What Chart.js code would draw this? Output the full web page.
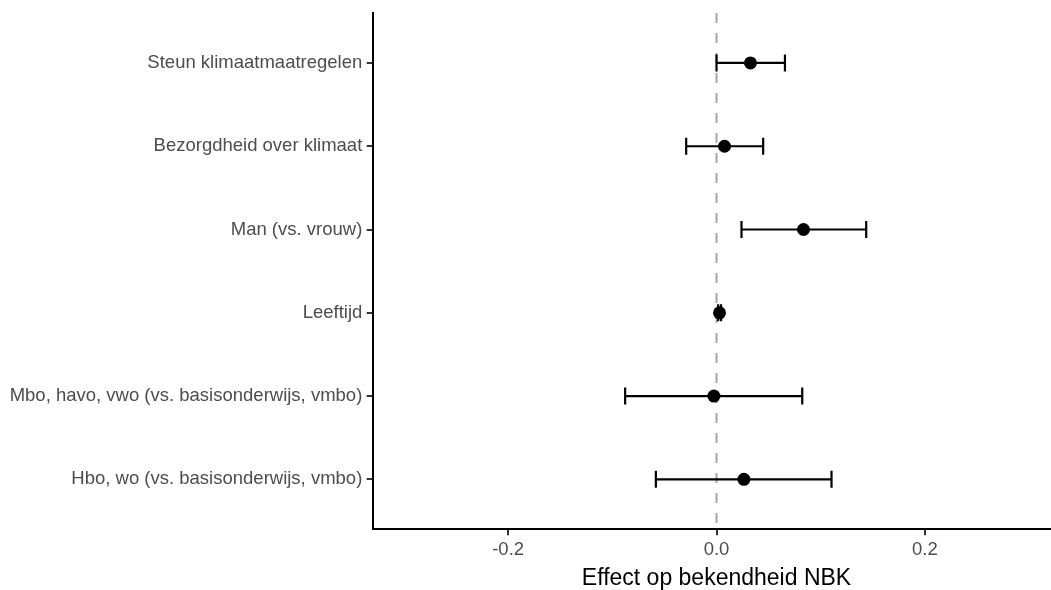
<!DOCTYPE html>
<html lang="nl">
<head>
<meta charset="utf-8">
<title>Effect op bekendheid NBK</title>
<script src="https://cdn.jsdelivr.net/npm/chart.js@4/dist/chart.umd.min.js"></script>
<style>
  html, body { margin: 0; padding: 0; background: #ffffff; overflow: hidden; }
  #wrap { position: absolute; left: 0; top: 0; width: 1071px; height: 590px; }
  #chart { display: block; width: 1071px; height: 590px; max-width: none; }
</style>
</head>
<body>
<div id="wrap"><canvas id="chart" width="1071" height="590"></canvas></div>
<script>
// Predictors, top to bottom
const predictors = [
  "Steun klimaatmaatregelen",
  "Bezorgdheid over klimaat",
  "Man (vs. vrouw)",
  "Leeftijd",
  "Mbo, havo, vwo (vs. basisonderwijs, vmbo)",
  "Hbo, wo (vs. basisonderwijs, vmbo)"
];
// Point estimates and confidence bounds
const estimate = [0.0326, 0.0077, 0.0835, 0.0029, -0.0025, 0.0263];
const lower    = [0.0000, -0.0291, 0.0240, 0.0016, -0.0877, -0.0582];
const upper    = [0.0657, 0.0448, 0.1437, 0.0044, 0.0823, 0.1104];
// Axis ticks
const xTicks = [-0.2, 0.0, 0.2];
const xMin = -0.33, xMax = 0.33;
const referenceValue = 0;

const rowPos = predictors.map((_, i) => i + 1);
const yMin = 0.4, yMax = predictors.length + 0.6;

const FONT = "'Liberation Sans', Arial, Helvetica, sans-serif";
const TICK_COLOR = '#4D4D4D';

const datasets = [];

// Point estimates
datasets.push({
  type: 'scatter',
  order: 0,
  data: estimate.map((v, i) => ({ x: v, y: rowPos[i] })),
  pointRadius: 6.5,
  pointBackgroundColor: '#000000',
  pointBorderWidth: 0,
  showLine: false
});

// Confidence intervals with end caps
predictors.forEach((_, i) => {
  datasets.push({
    type: 'line',
    order: 1,
    data: [{ x: lower[i], y: rowPos[i] }, { x: upper[i], y: rowPos[i] }],
    borderColor: '#000000',
    borderWidth: 2.2,
    pointStyle: 'line',
    pointRotation: 90,
    pointRadius: 8.5,
    pointBorderWidth: 2.2,
    pointBorderColor: '#000000',
    fill: false
  });
});

// Dashed reference line at zero
datasets.push({
  type: 'line',
  order: 2,
  data: [{ x: referenceValue, y: yMin }, { x: referenceValue, y: yMax }],
  borderColor: '#A6A6A6',
  borderWidth: 2,
  borderDash: [10, 10],
  pointRadius: 0,
  fill: false
});

function noPadding(s) {
  s.paddingTop = 0; s.paddingBottom = 0; s.paddingLeft = 0; s.paddingRight = 0;
}

new Chart(document.getElementById('chart'), {
  type: 'scatter',
  data: { datasets },
  options: {
    responsive: false,
    animation: false,
    events: [],
    layout: { padding: { left: 0, right: 0, top: 13, bottom: 0 } },
    plugins: { legend: { display: false }, tooltip: { enabled: false } },
    scales: {
      x: {
        type: 'linear',
        min: xMin,
        max: xMax,
        afterBuildTicks: (s) => { s.ticks = xTicks.map(v => ({ value: v })); },
        afterFit: (s) => { s.height = 60.7; noPadding(s); },
        ticks: {
          padding: 4,
          color: TICK_COLOR,
          font: { family: FONT, size: 18.5 },
          callback: (v) => Number(v).toFixed(1)
        },
        grid: {
          drawOnChartArea: false,
          drawTicks: true,
          tickLength: 6,
          color: '#333333',
          lineWidth: 2
        },
        border: { display: true, color: '#000000', width: 2 },
        title: {
          display: true,
          text: 'Effect op bekendheid NBK',
          color: '#000000',
          font: { family: FONT, size: 23, lineHeight: 1.0 },
          padding: { top: 0, bottom: 0 }
        }
      },
      y: {
        type: 'linear',
        reverse: true,
        min: yMin,
        max: yMax,
        afterBuildTicks: (s) => { s.ticks = rowPos.map(v => ({ value: v })); },
        afterFit: (s) => { s.width = 372.7; noPadding(s); },
        ticks: {
          padding: 4.4,
          color: TICK_COLOR,
          font: { family: FONT, size: 18.5 },
          callback: (v) => predictors[Math.round(v) - 1]
        },
        grid: {
          drawOnChartArea: false,
          drawTicks: true,
          tickLength: 6,
          color: '#333333',
          lineWidth: 2
        },
        border: { display: true, color: '#000000', width: 2 }
      }
    }
  }
});
</script>
</body>
</html>
